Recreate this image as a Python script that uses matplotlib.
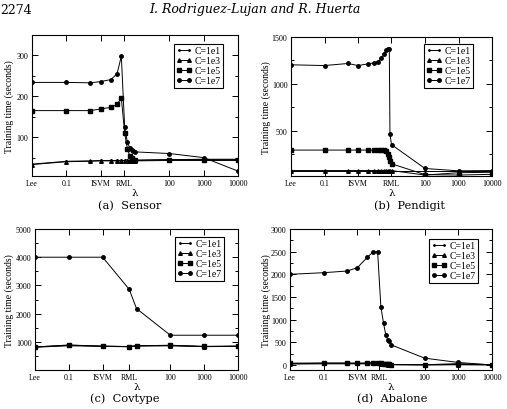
import matplotlib.pyplot as plt
from matplotlib.ticker import MultipleLocator, NullLocator, FixedLocator, FixedFormatter

plt.rcParams['font.family'] = ['Liberation Serif', 'DejaVu Serif']

# lambda values (Lee plotted at 0.01, ISVM at 1)
series = ['C=1e1', 'C=1e3', 'C=1e5', 'C=1e7']
tick_names = ['Lee', '0.1', 'ISVM', 'RML', '100', '1000', '10000']

# (a) Sensor
lam_a = [0.01, 0.1, 0.5, 1, 2, 3, 4, 5, 6, 7, 8, 9, 10, 100, 1000, 10000]
sensor = {
    'C=1e1': [34, 41, 42, 43, 43, 43, 43, 43, 43, 43, 43, 43, 43, 45, 46, 46],
    'C=1e3': [33, 40, 41, 42, 42, 42, 42, 42, 42, 42, 42, 42, 42, 43, 43, 43],
    'C=1e5': [165, 165, 165, 169, 173, 180, 196, 110, 72, 55, 48, 45, 44, 45, 45, 45],
    'C=1e7': [234, 234, 233, 236, 241, 255, 298, 124, 88, 74, 68, 66, 64, 60, 50, 17],
}
rml_a = 4.9

# (b) Pendigit
lam_b = [0.01, 0.1, 0.5, 1, 2, 3, 4, 5, 6, 7, 8, 8.6, 9, 10, 100, 1000, 10000]
pendigit = {
    'C=1e1': [78, 78, 78, 78, 78, 78, 78, 78, 78, 78, 78, 78, 78, 78, 78, 78, 78],
    'C=1e3': [78, 78, 78, 78, 78, 78, 78, 78, 78, 78, 78, 78, 78, 78, 30, 55, 60],
    'C=1e5': [296, 296, 296, 296, 296, 296, 296, 296, 296, 285, 255, 225, 185, 150, 35, 30, 38],
    'C=1e7': [1204, 1196, 1218, 1196, 1214, 1225, 1239, 1275, 1321, 1357, 1371, 1371, 464, 354, 100, 75, 78],
}
rml_b = 9.6

# (c) Covtype
lam_c = [0.01, 0.1, 1, 6.1, 10, 100, 1000, 10000]
covtype = {
    'C=1e1': [810, 860, 840, 825, 850, 860, 830, 840],
    'C=1e3': [815, 890, 845, 835, 865, 870, 835, 845],
    'C=1e5': [820, 880, 850, 830, 860, 880, 840, 850],
    'C=1e7': [4000, 4000, 4000, 2860, 2180, 1235, 1235, 1235],
}
rml_c = 6.1

# (d) Abalone
lam_d = [0.01, 0.1, 0.5, 1, 2, 3, 4, 5, 6, 7, 8, 9, 10, 100, 1000, 10000]
abalone = {
    'C=1e1': [20, 25, 25, 25, 25, 25, 25, 20, 15, 10, 8, 8, 6, 2, 5, 2],
    'C=1e3': [30, 35, 35, 35, 35, 40, 40, 30, 20, 15, 10, 10, 8, 3, 10, 3],
    'C=1e5': [40, 45, 45, 40, 45, 50, 50, 40, 30, 20, 15, 12, 10, 5, 30, 5],
    'C=1e7': [2000, 2036, 2073, 2146, 2380, 2500, 2500, 1285, 920, 665, 560, 520, 445, 150, 55, 0],
}
rml_d = 4.4

markers = {'C=1e1': '.', 'C=1e3': '^', 'C=1e5': 's', 'C=1e7': 'o'}
msizes = {'C=1e1': 2, 'C=1e3': 2.6, 'C=1e5': 2.3, 'C=1e7': 2.5}

W, H = 507, 410
fig = plt.figure(figsize=(W / 100, H / 100), dpi=100)


def panel(box, lam, data, rml, ylim, ymajor, yminor, ylab_x, legend_rt, caption, cap_xy):
    l, t, r, b = box
    ax = fig.add_axes([l / W, 1 - b / H, (r - l) / W, (b - t) / H])
    for s in series:
        ax.plot(lam, data[s], color='black', lw=0.7, marker=markers[s],
                ms=msizes[s], label=s)
    ax.set_xscale('log')
    ax.set_xlim(0.01, 10000)
    ax.set_ylim(*ylim)
    ax.xaxis.set_major_locator(FixedLocator([0.01, 0.1, 1, rml, 100, 1000, 10000]))
    ax.xaxis.set_major_formatter(FixedFormatter(tick_names))
    ax.xaxis.set_minor_locator(NullLocator())
    ax.yaxis.set_major_locator(MultipleLocator(ymajor))
    ax.yaxis.set_minor_locator(MultipleLocator(yminor))
    ax.tick_params(which='both', direction='in', top=True, right=True, labelsize=5.8, width=0.7)
    ax.tick_params(which='major', length=4, pad=2.5)
    ax.tick_params(which='minor', length=2)
    for sp in ax.spines.values():
        sp.set_linewidth(0.8)
    ax.set_xlabel('λ', fontsize=7.5, labelpad=0.5, family='DejaVu Serif')
    ax.set_ylabel('Training time (seconds)', fontsize=7, va='center')
    ax.yaxis.set_label_coords((ylab_x - l) / (r - l), 0.5)
    leg = ax.legend(loc='upper right', bbox_to_anchor=(legend_rt[0] / W, 1 - legend_rt[1] / H),
                    bbox_transform=fig.transFigure, borderaxespad=0, fontsize=7,
                    fancybox=False, framealpha=1, edgecolor='black', numpoints=2,
                    handlelength=1.6, handletextpad=0.3, labelspacing=0.1, borderpad=0.25)
    leg.get_frame().set_linewidth(0.8)
    fig.text(cap_xy[0] / W, 1 - cap_xy[1] / H, caption, fontsize=8.2,
             ha='center', va='center', family='DejaVu Serif')
    return ax


panel((32, 36, 238, 177), lam_a, sensor, rml_a, (5, 350), 100, 50, 9,
      (223, 45), '(a)  Sensor', (130, 206))
panel((291, 38, 492, 177), lam_b, pendigit, rml_b, (20, 1500), 500, 250, 266,
      (473, 45), '(b)  Pendigit', (410, 206))
panel((35, 230, 238, 370.5), lam_c, covtype, rml_c, (20, 5000), 1000, 500, 9,
      (224, 238), '(c)  Covtype', (125, 399))
panel((290, 230, 492, 370.5), lam_d, abalone, rml_d, (-100, 3000), 500, 250, 266,
      (478, 240), '(d)  Abalone', (392, 399))

fig.text(0 / W, 1 - 10 / H, '2274', fontsize=9, ha='left', va='center', family='DejaVu Serif')
fig.text(255 / W, 1 - 10 / H, 'I. Rodriguez-Lujan and R. Huerta', fontsize=9,
         ha='center', va='center', style='italic', family='DejaVu Serif')

fig.savefig('out.png', dpi=100)
